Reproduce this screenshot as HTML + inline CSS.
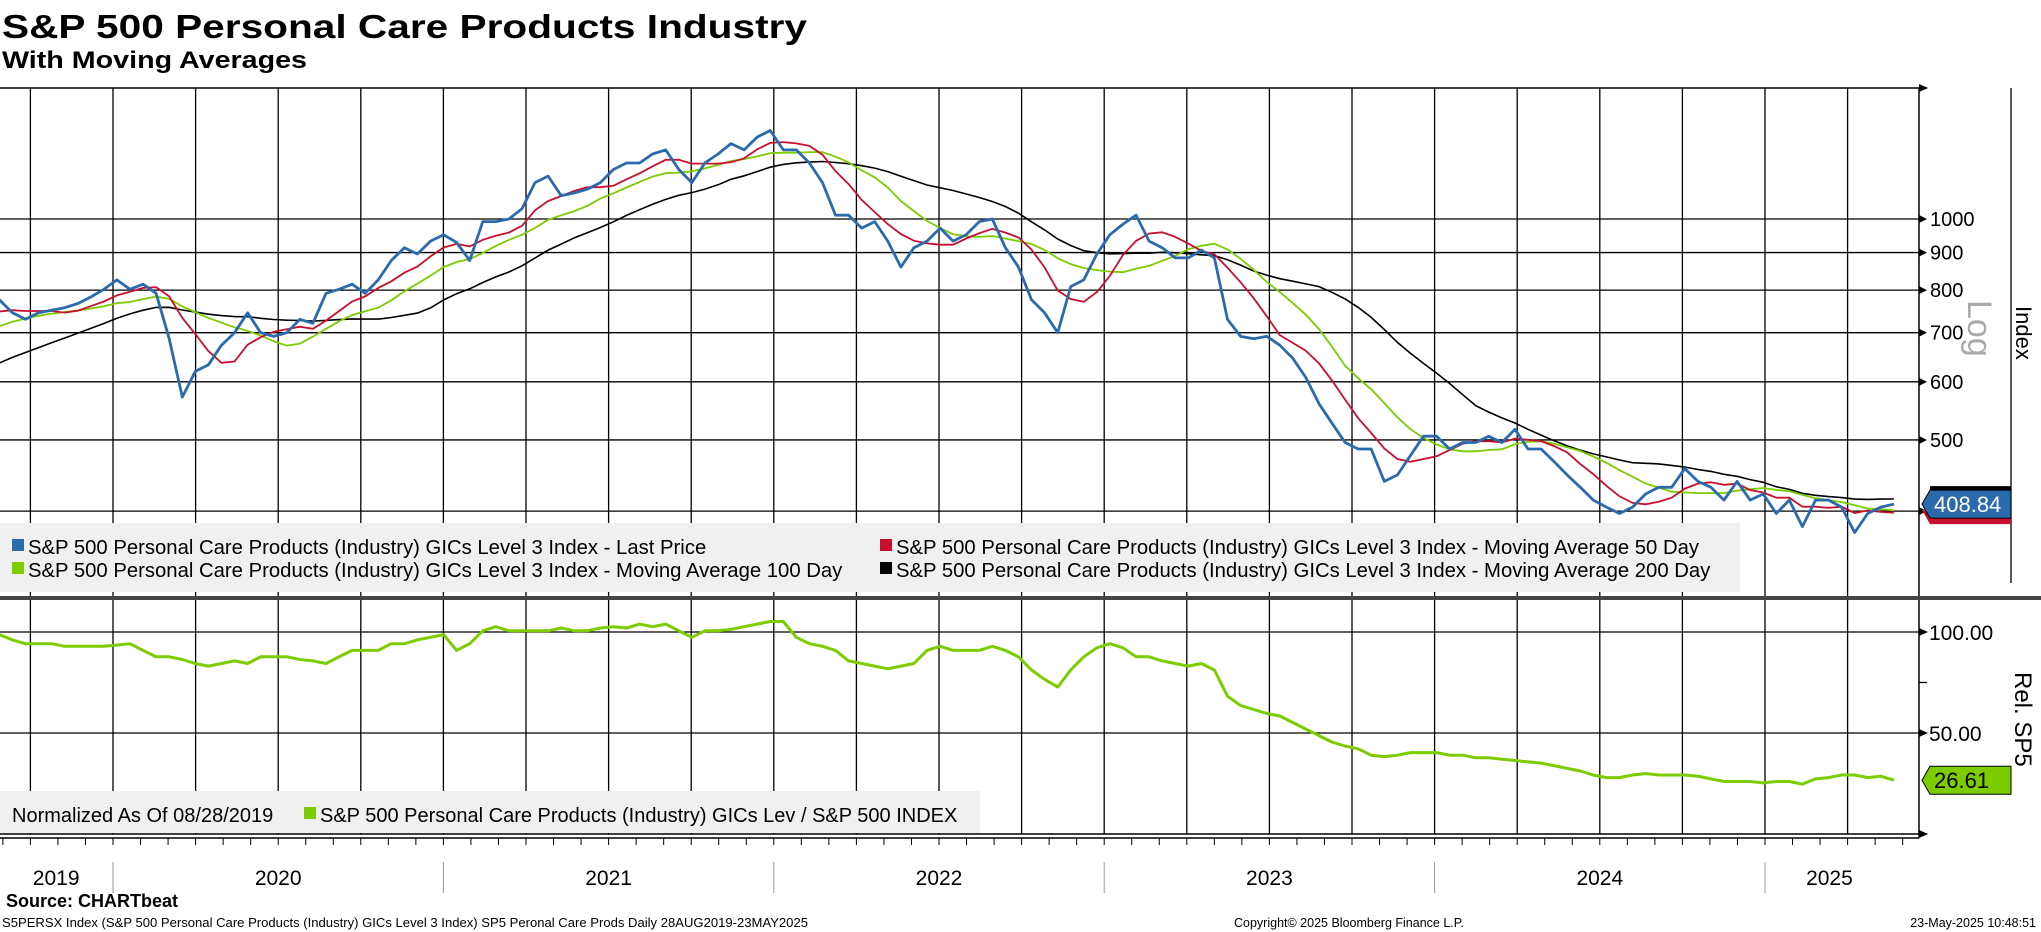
<!DOCTYPE html>
<html><head><meta charset="utf-8"><style>
html,body{margin:0;padding:0;background:#fff;}
svg{display:block;font-family:"Liberation Sans","DejaVu Sans",sans-serif;}
</style></head><body>
<svg id="chart" width="2041" height="932" viewBox="0 0 2041 932" xmlns="http://www.w3.org/2000/svg">
<text x="2" y="38" font-size="33" font-weight="bold" textLength="805" lengthAdjust="spacingAndGlyphs">S&amp;P 500 Personal Care Products Industry</text>
<text x="2" y="68" font-size="24" font-weight="bold" textLength="305" lengthAdjust="spacingAndGlyphs">With Moving Averages</text>
<g id="grid"></g>
<g id="series"></g>
<g id="fg"></g>
</svg>
<script>
const startYear = 2019.656, endYear = 2025.39;
const priorPrice = [520,530,540,545,555,560,570,580,590,600,640,660,680,700,720,730,740,745,750];
const lastPrice = [776,745,730,745,751,757,767,783,802,826,802,815,792,687,572,620,633,673,700,745,700,692,700,730,721,792,802,815,792,826,878,914,896,933,952,929,878,992,992,1000,1033,1121,1144,1076,1085,1098,1121,1168,1192,1192,1226,1242,1168,1121,1192,1226,1267,1242,1293,1320,1242,1242,1192,1121,1012,1012,972,992,933,860,914,933,972,933,952,992,1000,914,860,776,745,700,809,826,896,952,984,1012,933,914,885,885,907,885,730,692,687,692,673,646,608,560,527,496,486,486,439,448,476,506,506,486,496,496,506,496,517,486,486,467,448,431,414,405,397,405,422,431,431,457,439,431,414,439,414,422,397,414,381,414,414,405,374,397,405,408.84];
const relSP5 = [98.7,96.1,94.2,94.2,94.2,92.9,92.9,92.9,92.9,93.5,94.2,90.9,87.7,87.7,86.4,84.4,83.1,84.4,85.7,84.4,87.7,87.7,87.7,86.4,85.7,84.4,87.7,90.9,90.9,90.9,94.2,94.2,96.1,97.4,98.7,90.9,94.2,100.6,102.6,100.6,100.6,100.6,100.6,102,100.6,100.6,102,102.6,102,103.9,102.6,103.9,100.6,97.4,100.6,100.6,101.3,102.6,103.9,105.2,105.2,97.4,94.2,92.9,90.9,85.7,84.4,83.1,81.8,83.1,84.4,90.9,92.9,90.9,90.9,90.9,92.9,90.9,87.7,81.2,76.6,72.7,81.2,87.7,92.2,94.2,92.2,87.7,87.7,85.7,84.4,83.1,84.4,81.2,68.2,63.6,61.7,59.7,58.4,55.2,51.9,48.7,45.5,43.5,42.2,39,38.3,39,40.3,40.3,40.3,39,39,37.7,37.7,37,36.4,35.7,35.1,33.8,32.5,31.2,29.2,27.9,27.9,29.2,29.9,29.2,29.2,29.2,28.6,27.3,26,26,26,25.3,26,26,24.7,27.3,27.9,29.2,29.2,27.9,28.6,26.61];
const priceTicks = [400,500,600,700,800,900,1000];
const relTicks = [50,100];
const yearLabels = ["2019","2020","2021","2022","2023","2024","2025"];
const maWindows = [5,10,20];

const NS="http://www.w3.org/2000/svg";
function mk(parent,tag,attrs,text){const e=document.createElementNS(NS,tag);for(const k in attrs)e.setAttribute(k,attrs[k]);if(text!==undefined)e.textContent=text;parent.appendChild(e);return e;}
const grid=document.getElementById('grid'),series=document.getElementById('series'),fg=document.getElementById('fg');
const PL=0,PR=1919,TT=88,TB=596,BT=600,BB=834;
function xY(yr){return 113+(yr-2020)*330.4;}
function xI(i,n){return xY(startYear+i*(endYear-startYear)/(n-1));}
function yP(p){return 219+734*Math.log10(1000/p);}
function yR(v){return 834-v*2.02;}

for(let q=2019.75;q<2025.5;q+=0.25){
  const x=xY(q);
  const l=mk(grid,'line',{x1:x,y1:TT,x2:x,y2:BB,stroke:'#000','stroke-width':1.3});
  
  
}
priceTicks.forEach(p=>{
  const y=yP(p);
  const l=mk(grid,'line',{x1:PL,y1:y,x2:PR,y2:y,stroke:'#000','stroke-width':1.3});
  
  
  const t=mk(fg,'text',{x:1930,y:y+7,'font-size':20},String(p));
  
  
  mk(fg,'path',{d:`M${PR} ${y-4}L${PR+8} ${y}L${PR} ${y+4}Z`,fill:'#000'});
});
relTicks.forEach(v=>{
  const y=yR(v);
  const l=mk(grid,'line',{x1:PL,y1:y,x2:PR,y2:y,stroke:'#000','stroke-width':1.3});
  
  
  const t=mk(fg,'text',{x:1929,y:y+8,'font-size':21},v.toFixed(2));
  
  
  mk(fg,'path',{d:`M${PR} ${y-4}L${PR+9} ${y}L${PR} ${y+4}Z`,fill:'#000'});
});
mk(fg,'line',{x1:PR,y1:yR(75),x2:PR+8,y2:yR(75),stroke:'#000','stroke-width':1.3});
mk(grid,'line',{x1:0,y1:TT,x2:PR+8,y2:TT,stroke:'#000','stroke-width':1.5});
mk(grid,'path',{d:`M${PR} ${TT-4}L${PR+9} ${TT}L${PR} ${TT+4}Z`,fill:'#000'});
mk(grid,'line',{x1:0,y1:BB,x2:PR+8,y2:BB,stroke:'#000','stroke-width':1.5});
mk(grid,'path',{d:`M${PR} ${BB-4}L${PR+9} ${BB}L${PR} ${BB+4}Z`,fill:'#000'});
mk(grid,'line',{x1:PR,y1:TT,x2:PR,y2:BB+4,stroke:'#000','stroke-width':1.5});
mk(grid,'line',{x1:2011,y1:TT,x2:2011,y2:583,stroke:'#000','stroke-width':1.3});

const fullHist=priorPrice.concat(lastPrice), off=priorPrice.length;
function ma(w){return lastPrice.map((_,i)=>{const k=i+off;const s=Math.max(0,k-w+1);let t=0;for(let j=s;j<=k;j++)t+=fullHist[j];return t/(k-s+1);});}
function pathOf(arr,yf){return arr.map((v,i)=>(i?'L':'M')+xI(i,arr.length).toFixed(1)+' '+yf(v).toFixed(1)).join('');}
const ma50=ma(maWindows[0]),ma100=ma(maWindows[1]),ma200=ma(maWindows[2]);
const p200=mk(series,'path',{d:pathOf(ma200,yP),fill:'none',stroke:'#000','stroke-width':1.6});


const p100=mk(series,'path',{d:pathOf(ma100,yP),fill:'none',stroke:'#7ccc00','stroke-width':1.8});


const p50=mk(series,'path',{d:pathOf(ma50,yP),fill:'none',stroke:'#c8102e','stroke-width':1.8});


const pl=mk(series,'path',{d:pathOf(lastPrice,yP),fill:'none',stroke:'#2a6aad','stroke-width':2.8,'stroke-linejoin':'round'});


const pr=mk(series,'path',{d:pathOf(relSP5,yR),fill:'none',stroke:'#7ccc00','stroke-width':3,'stroke-linejoin':'round'});



mk(fg,'rect',{x:0,y:TB,width:2041,height:4,fill:'#444'});

const lg=mk(fg,'g',{});


mk(lg,'rect',{x:0,y:523,width:1740,height:69,fill:'#f0f0f0'});
const legItems=[[12,547,'#2a6aad','S&P 500 Personal Care Products (Industry) GICs Level 3 Index - Last Price'],[880,547,'#c8102e','S&P 500 Personal Care Products (Industry) GICs Level 3 Index - Moving Average 50 Day'],[12,570,'#7ccc00','S&P 500 Personal Care Products (Industry) GICs Level 3 Index - Moving Average 100 Day'],[880,570,'#000','S&P 500 Personal Care Products (Industry) GICs Level 3 Index - Moving Average 200 Day']];
legItems.forEach(it=>{
  const g=mk(lg,'g',{});
  
  
  mk(g,'rect',{x:it[0],y:it[1]-8,width:12,height:12,fill:it[2]});
  mk(g,'text',{x:it[0]+16,y:it[1]+7,'font-size':20.3},it[3]);
});
const lg2=mk(fg,'g',{});


mk(lg2,'rect',{x:0,y:791,width:980,height:42,fill:'#f0f0f0'});
mk(lg2,'text',{x:12,y:822,'font-size':20},'Normalized As Of 08/28/2019');
mk(lg2,'rect',{x:304,y:807,width:12,height:12,fill:'#7ccc00'});
mk(lg2,'text',{x:320,y:822,'font-size':20},'S&P 500 Personal Care Products (Industry) GICs Lev / S&P 500 INDEX');

function tag(y,val,fill,color,name){
  const g=mk(fg,'g',{});
  
  
  mk(g,'path',{d:`M1922 ${y}L1930 ${y-14}L2011 ${y-14}L2011 ${y+14}L1930 ${y+14}Z`,fill:fill,stroke:'#000','stroke-width':1});
  mk(g,'text',{x:1934,y:y+8,'font-size':22,fill:color},val);
}
const lp=lastPrice[lastPrice.length-1];
mk(fg,'path',{d:`M1922 ${yP(lp)+6}L1930 ${yP(lp)+20}L2011 ${yP(lp)+20}L2011 ${yP(lp)}Z`,fill:'#c8102e'});
mk(fg,'rect',{x:1930,y:yP(lp)-18,width:81,height:4,fill:'#000'});
tag(yP(lp),lp.toFixed(2),'#2a6aad','#fff','last-price-tag');
const lr=relSP5[relSP5.length-1];
tag(yR(lr),lr.toFixed(2),'#7ccc00','#000','relative-tag');

const t1=mk(fg,'text',{x:0,y:0,'font-size':34,fill:'#aaa',transform:'translate(1968,300) rotate(90)'},'Log');


const t2=mk(fg,'text',{x:0,y:0,'font-size':22,transform:'translate(2016,306) rotate(90)'},'Index');


const t3=mk(fg,'text',{x:0,y:0,'font-size':24,transform:'translate(2015,672) rotate(90)'},'Rel. SP5');



mk(fg,'line',{x1:0,y1:838,x2:PR,y2:838,stroke:'#000','stroke-width':1.5});
for(let m=2019+8/12;m<2025.45;m+=1/12){
  const x=xY(m);
  mk(fg,'line',{x1:x,y1:838,x2:x,y2:845,stroke:'#000','stroke-width':1});
}
for(let yv=2020;yv<=2025;yv++){
  const x=xY(yv);
  mk(fg,'line',{x1:x,y1:862,x2:x,y2:893,stroke:'#999','stroke-width':1});
}
yearLabels.forEach((lab,i)=>{
  const yr=2019+i;
  const a=Math.max(yr,startYear),b=Math.min(yr+1,endYear);
  const t=mk(fg,'text',{x:(xY(a)+xY(b))/2,y:885,'font-size':21,'text-anchor':'middle'},lab);
  
  
});
const s=mk(fg,'text',{x:6,y:907,'font-size':18,'font-weight':'bold'},'Source: CHARTbeat');


const f1=mk(fg,'text',{x:2,y:927,'font-size':12.5,textLength:806,lengthAdjust:'spacingAndGlyphs'},'S5PERSX Index (S&P 500 Personal Care Products (Industry) GICs Level 3 Index) SP5 Peronal Care Prods  Daily 28AUG2019-23MAY2025');


const f2=mk(fg,'text',{x:1234,y:927,'font-size':12.5},'Copyright\u00a9 2025 Bloomberg Finance L.P.');


const f3=mk(fg,'text',{x:2036,y:927,'font-size':12.5,'text-anchor':'end'},'23-May-2025 10:48:51');


</script>
</body></html>
